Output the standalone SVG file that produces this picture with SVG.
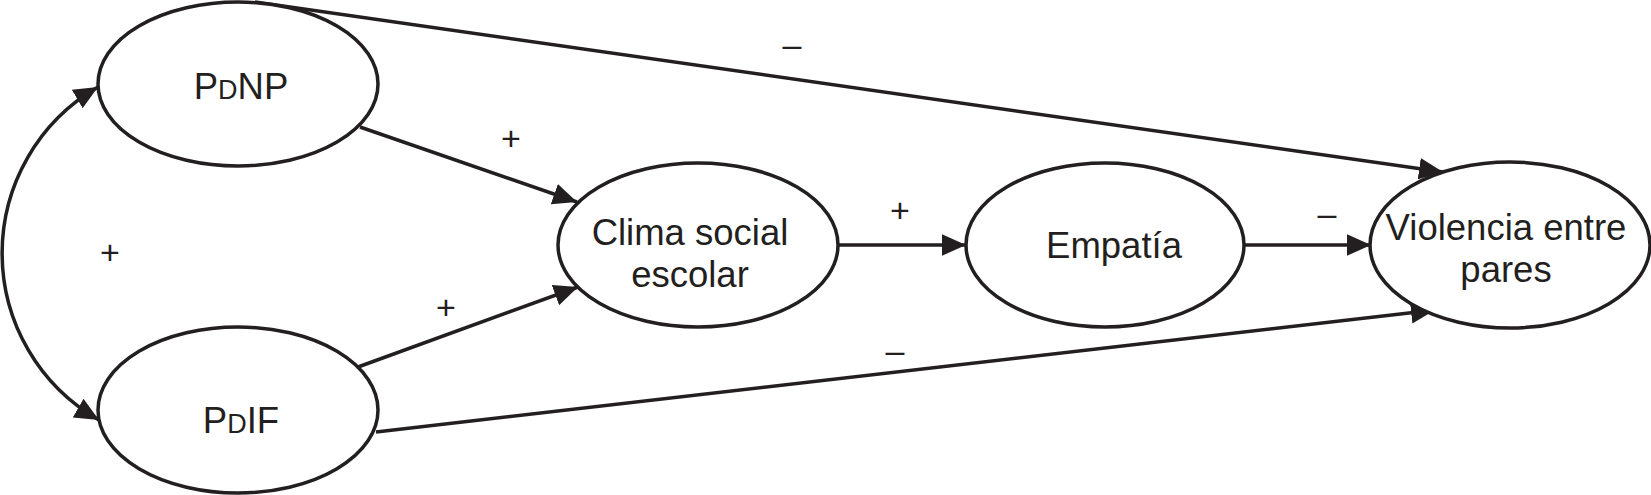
<svg xmlns="http://www.w3.org/2000/svg" width="1651" height="495" viewBox="0 0 1651 495">
<defs>
<marker id="ah" viewBox="0 0 10 10" refX="10" refY="5" markerWidth="24" markerHeight="24" markerUnits="userSpaceOnUse" orient="auto-start-reverse">
<path d="M0,0.5 L10,5 L0,9.5 z" fill="#231f20"/>
</marker>
<style>
.n{fill:#fff;stroke:#231f20;stroke-width:3.5}
.t{font-family:"Liberation Sans",Arial,sans-serif;font-size:36.5px;fill:#231f20;text-anchor:middle}
.s{font-family:"Liberation Sans",Arial,sans-serif;font-size:34px;fill:#231f20;text-anchor:middle}
.c{fill:none;stroke:#231f20;stroke-width:3.5}
</style>
</defs>
<rect width="1651" height="495" fill="#fff"/>
<g id="connectors">
<path class="c" d="M98,87 A192,192 0 0,0 99,420" marker-start="url(#ah)" marker-end="url(#ah)"/>
<line class="c" x1="255" y1="2" x2="1443" y2="172" marker-end="url(#ah)"/>
<line class="c" x1="360" y1="127" x2="577" y2="202" marker-end="url(#ah)"/>
<line class="c" x1="358" y1="367" x2="578" y2="287" marker-end="url(#ah)"/>
<line class="c" x1="376" y1="432" x2="1435" y2="310" marker-end="url(#ah)"/>
<line class="c" x1="838" y1="245" x2="966" y2="245" marker-end="url(#ah)"/>
<line class="c" x1="1245" y1="245" x2="1371" y2="245" marker-end="url(#ah)"/>
</g>
<g id="PdNP">
<ellipse class="n" cx="238" cy="84" rx="140" ry="82"/>
<text class="t" x="241" y="99">P<tspan font-size="27">D</tspan>NP</text>
</g>
<g id="PdIF">
<ellipse class="n" cx="238" cy="410" rx="140" ry="83"/>
<text class="t" x="241" y="433">P<tspan font-size="27">D</tspan>IF</text>
</g>
<g id="clima">
<ellipse class="n" cx="698" cy="245" rx="140" ry="82"/>
<text class="t" x="690" y="245">Clima social</text>
<text class="t" x="690" y="287">escolar</text>
</g>
<g id="empatia">
<ellipse class="n" cx="1105" cy="245" rx="139" ry="82"/>
<text class="t" x="1114" y="258">Empatía</text>
</g>
<g id="violencia">
<ellipse class="n" cx="1510" cy="245" rx="140" ry="83"/>
<text class="t" x="1506" y="240">Violencia entre</text>
<text class="t" x="1506" y="282">pares</text>
</g>
<g id="labels">
<text class="s" x="511" y="150">+</text>
<text class="s" x="446" y="319">+</text>
<text class="s" x="110" y="264">+</text>
<text class="s" x="900" y="222">+</text>
<text class="s" x="792" y="56">–</text>
<text class="s" x="1327" y="225">–</text>
<text class="s" x="895" y="362">–</text>
</g>
</svg>
